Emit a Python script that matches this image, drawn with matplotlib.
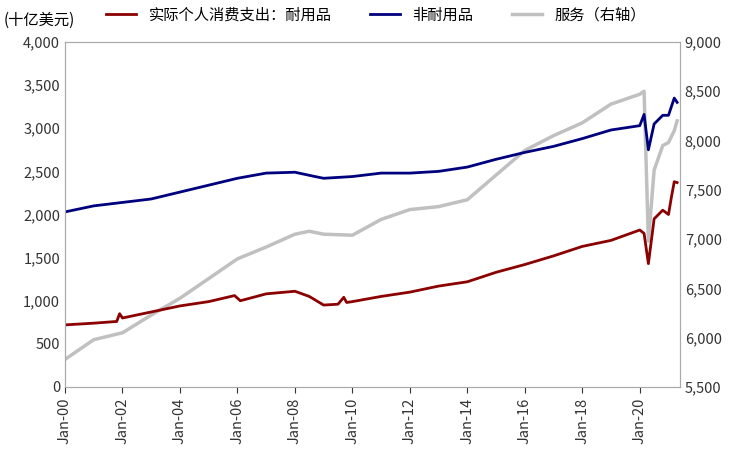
import matplotlib
matplotlib.use("Agg")
import matplotlib.pyplot as plt
import numpy as np

plt.rcParams["font.family"] = "Noto Sans CJK SC"

# time in decimal years
dur_t = [2000.0,2001.0,2001.8,2001.9,2002.0,2003.0,2004.0,2005.0,2005.9,2006.1,2007.0,2008.0,2008.5,2009.0,2009.5,2009.7,2009.8,2010.0,2011.0,2012.0,2013.0,2014.0,2015.0,2016.0,2017.0,2018.0,2019.0,2020.0,2020.15,2020.3,2020.5,2020.8,2021.0,2021.1,2021.2,2021.3]
dur_v = [720,740,760,850,800,870,940,990,1060,1000,1080,1110,1050,950,960,1040,980,990,1050,1100,1170,1220,1330,1420,1520,1630,1700,1820,1780,1430,1950,2050,2000,2200,2380,2370]

non_t = [2000.0,2001.0,2002.0,2003.0,2004.0,2005.0,2006.0,2007.0,2008.0,2008.7,2009.0,2010.0,2011.0,2012.0,2013.0,2014.0,2015.0,2016.0,2017.0,2018.0,2019.0,2020.0,2020.15,2020.3,2020.5,2020.8,2021.0,2021.2,2021.3]
non_v = [2030,2100,2140,2180,2260,2340,2420,2480,2490,2440,2420,2440,2480,2480,2500,2550,2640,2720,2790,2880,2980,3030,3160,2750,3050,3150,3150,3350,3300]

svc_t = [2000.0,2001.0,2002.0,2003.0,2004.0,2005.0,2006.0,2007.0,2008.0,2008.5,2009.0,2010.0,2011.0,2012.0,2013.0,2014.0,2015.0,2016.0,2017.0,2018.0,2019.0,2020.0,2020.15,2020.3,2020.5,2020.8,2021.0,2021.2,2021.3]
svc_v = [5780,5980,6050,6230,6400,6600,6800,6920,7050,7080,7050,7040,7200,7300,7330,7400,7650,7900,8050,8180,8370,8470,8500,6980,7700,7950,7980,8100,8200]

xticks = [2000+2*i for i in range(11)]
xlabels = ["Jan-%02d" % (y % 100) for y in xticks]

fig = plt.figure(figsize=(7.52,4.62), dpi=100)
ax = fig.add_axes([65/752, 1-387/462, 615/752, 345/462])
ax2 = ax.twinx()
l3, = ax2.plot(svc_t, svc_v, color="#c0c0c0", lw=2.5, label="服务（右轴）")
l1, = ax.plot(dur_t, dur_v, color="#8b0000", lw=2, label="实际个人消费支出：耐用品")
l2, = ax.plot(non_t, non_v, color="#00007f", lw=2, label="非耐用品")
ax.set_zorder(ax2.get_zorder()+1); ax.patch.set_visible(False)
ax.set_ylim(0,4000); ax2.set_ylim(5500,9000)
ax.set_yticks(range(0,4001,500)); ax.set_yticklabels([f"{v:,}" for v in range(0,4001,500)])
ax2.set_yticks(range(5500,9001,500)); ax2.set_yticklabels([f"{v:,}" for v in range(5500,9001,500)])
ax.set_xlim(2000, 2021.4)
ax.set_xticks(xticks); ax.set_xticklabels(xlabels, rotation=90)
for a in (ax, ax2):
    a.tick_params(labelsize=10.5, colors="#333333", length=0)
    for s in a.spines.values(): s.set_color("#aaaaaa")
ax.tick_params(axis="x", length=4, direction="out")
fig.text(0.005, 1-20/462, "(十亿美元)", fontsize=11, va="center")
fig.legend(handles=[l1,l2,l3], loc="center", bbox_to_anchor=(0.5, 1-15/462), ncol=3, frameon=False, fontsize=11, handlelength=2, columnspacing=2.5)
fig.savefig("out.png", dpi=100)
